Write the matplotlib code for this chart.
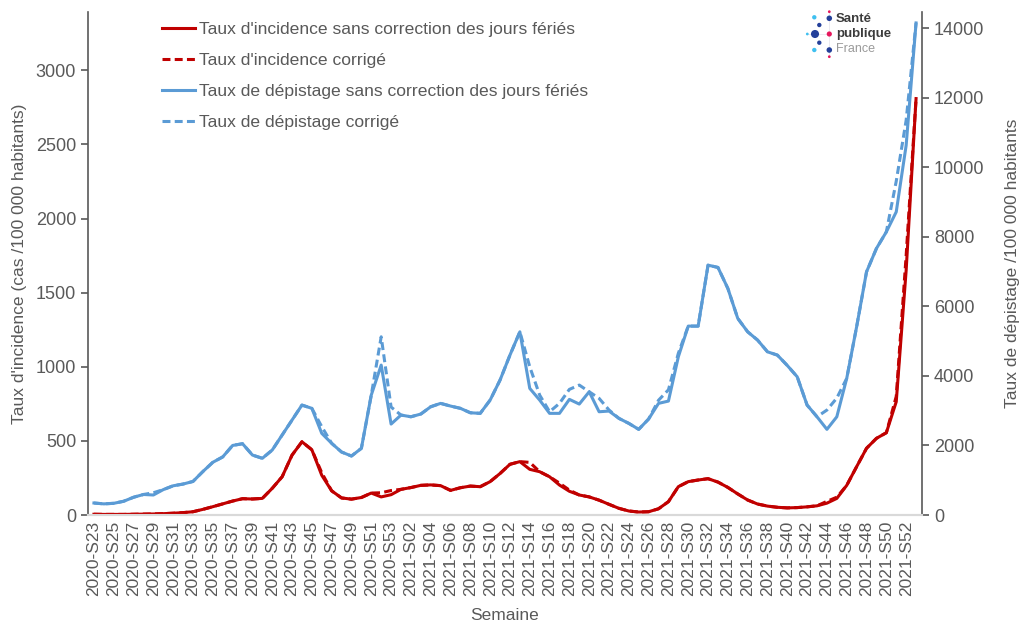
import numpy as np
import matplotlib
matplotlib.use("Agg")
import matplotlib.pyplot as plt

plt.rcParams['font.family'] = ['Liberation Sans', 'DejaVu Sans']

# weeks 2020-S23 .. 2022-S01
weeks = ([f"2020-S{w:02d}" for w in range(23, 54)]
         + [f"2021-S{w:02d}" for w in range(1, 53)]
         + ["2022-S01"])

# incidence rate (cases /100 000), raw and holiday-corrected
incid_raw = [5, 4, 4, 4, 5, 6, 7, 9, 12, 16,
             22, 38, 56, 75, 94, 110, 108, 112, 180, 258,
             404, 494, 440, 268, 163, 115, 107, 118, 148, 122,
             137, 173, 185, 200, 203, 198, 166, 184, 195, 191,
             225, 280, 342, 360, 308, 292, 258, 202, 160, 135,
             122, 100, 72, 45, 27, 20, 22, 42, 90, 191,
             225, 236, 245, 222, 186, 142, 101, 74, 60, 52,
             48, 50, 55, 62, 80, 112, 200, 326, 450, 517,
             555, 764, 1650, 2809]
incid_corr = [5, 4, 4, 4, 5, 6, 7, 9, 12, 16,
              22, 38, 56, 75, 94, 110, 108, 112, 180, 258,
              404, 494, 440, 285, 163, 115, 107, 118, 148, 150,
              165, 173, 185, 200, 203, 198, 166, 184, 195, 191,
              225, 280, 342, 360, 355, 292, 258, 215, 168, 135,
              122, 100, 72, 45, 27, 20, 22, 42, 90, 191,
              225, 236, 245, 222, 186, 142, 101, 74, 60, 52,
              48, 50, 55, 62, 92, 120, 200, 326, 450, 517,
              555, 800, 1750, 2809]

# screening rate (/100 000), raw and holiday-corrected
dep_raw = [345, 320, 336, 395, 510, 590, 575, 730, 840, 890,
           965, 1250, 1515, 1670, 2000, 2050, 1724, 1630, 1868, 2299,
           2730, 3161, 3067, 2348, 2061, 1811, 1696, 1917, 3450, 4311,
           2615, 2874, 2825, 2903, 3113, 3210, 3133, 3067, 2940, 2923,
           3305, 3880, 4598, 5268, 3641, 3305, 2923, 2923, 3325, 3190,
           3544, 2969, 2989, 2779, 2635, 2463, 2760, 3210, 3276, 4550,
           5432, 5432, 7185, 7119, 6515, 5653, 5268, 5030, 4693, 4598,
           4300, 3975, 3161, 2825, 2463, 2825, 3929, 5412, 6993, 7665,
           8142, 8717, 10630, 14150]
dep_corr = [345, 320, 336, 395, 510, 590, 640, 730, 840, 890,
            965, 1250, 1515, 1670, 2000, 2050, 1724, 1630, 1868, 2299,
            2730, 3161, 3067, 2540, 2061, 1811, 1696, 1917, 3450, 5125,
            3104, 2874, 2825, 2903, 3113, 3210, 3133, 3067, 2940, 2923,
            3305, 3880, 4598, 5268, 4262, 3449, 2969, 3210, 3613, 3736,
            3544, 3354, 3020, 2779, 2635, 2463, 2760, 3300, 3600, 4650,
            5432, 5432, 7185, 7119, 6515, 5653, 5268, 5030, 4693, 4598,
            4300, 3975, 3161, 2825, 3018, 3363, 3929, 5412, 6993, 7665,
            8142, 9600, 11350, 14150]

RED = '#C00000'
BLUE = '#5B9BD5'
TXT = '#595959'
DASH = (2.6, 1.4)

x = np.arange(len(weeks))

fig = plt.figure(figsize=(10.21, 6.25), dpi=100)
ax = fig.add_axes([88/1021, 1 - 515/625, (922-88)/1021, (515-12)/625])
ax2 = ax.twinx()

l1, = ax.plot(x, incid_raw, color=RED, lw=2.2, solid_joinstyle='round',
              label="Taux d'incidence sans correction des jours fériés", zorder=3)
l2, = ax.plot(x, incid_corr, color=RED, lw=2.2, dashes=DASH,
              label="Taux d'incidence corrigé", zorder=2)
l3, = ax2.plot(x, dep_raw, color=BLUE, lw=2.2, solid_joinstyle='round',
               label="Taux de dépistage sans correction des jours fériés", zorder=3)
l4, = ax2.plot(x, dep_corr, color=BLUE, lw=2.2, dashes=DASH,
               label="Taux de dépistage corrigé", zorder=2)

ax.set_xlim(-0.6, len(weeks) - 0.4)
ax.set_ylim(0, 3393)
ax2.set_ylim(0, 14465)
ax.set_yticks(np.arange(0, 3001, 500))
ax2.set_yticks(np.arange(0, 14001, 2000))
ax.set_xticks(x[::2])
ax.set_xticklabels(weeks[::2], rotation=90)

for a in (ax, ax2):
    a.spines['top'].set_visible(False)
    a.spines['bottom'].set_color('#d9d9d9')
    a.spines['bottom'].set_linewidth(1.5)
    a.spines['left'].set_color('#595959')
    a.spines['right'].set_color('#595959')
    a.spines['left'].set_linewidth(1.2)
    a.spines['right'].set_linewidth(1.2)
    a.tick_params(axis='y', colors=TXT, labelsize=13, length=5, width=1.2,
                  color='#595959')
ax.spines['right'].set_visible(False)
ax2.spines['left'].set_visible(False)
ax.tick_params(axis='x', length=0, labelsize=12.5, colors=TXT, pad=4)

ax.set_xlabel('Semaine', fontsize=12.5, color=TXT, labelpad=9)
ax.set_ylabel("Taux d'incidence (cas /100 000 habitants)", fontsize=12.5,
              color=TXT, labelpad=6)
ax2.set_ylabel("Taux de dépistage /100 000 habitants", fontsize=12.5,
               color=TXT, labelpad=15)

leg = ax2.legend(handles=[l1, l2, l3, l4], loc='upper left',
                 bbox_to_anchor=(0.07, 1.011), frameon=False, fontsize=12.6,
                 handlelength=1.9, handletextpad=0.2, labelspacing=0.9)
for t in leg.get_texts():
    t.set_color(TXT)

# Santé publique France logo (pixel coords)
lg = fig.add_axes([800/1021, 1 - 62/625, 80/1021, 57/625])
lg.set_xlim(800, 880)
lg.set_ylim(62, 5)
lg.axis('off')
dots_x = [814.3, 829.3, 829.3, 819.3, 807.3, 815, 829.3, 819.3, 814.3, 829.3, 829.3]
dots_y = [17.3, 18.3, 11.7, 25, 34, 34, 34, 42.7, 50, 50, 56.7]
dots_c = ['#3fc0f0', '#24409a', '#e6175c', '#24409a', '#3fc0f0', '#24409a',
          '#e6175c', '#24409a', '#3fc0f0', '#24409a', '#e6175c']
dots_s = [10, 16, 4, 10, 4, 34, 14, 10, 10, 16, 4]
lg.plot([829.3, 829.3], [11.7, 56.7], color='#e8e8ee', lw=0.6, zorder=1)
lg.plot([807.3, 829.3], [34, 34], color='#e8e8ee', lw=0.6, zorder=1)
lg.scatter(dots_x, dots_y, s=dots_s, c=dots_c, zorder=2, linewidths=0)
lg.text(836, 19.5, 'Santé', fontsize=9.5, fontweight='bold', color='#3c3c3c',
        va='center', ha='left')
lg.text(836, 34, 'publique', fontsize=9.5, fontweight='bold', color='#3c3c3c',
        va='center', ha='left')
lg.text(836, 49.5, 'France', fontsize=9, color='#9a9a9a', va='center', ha='left')

fig.savefig('out.png', dpi=100)
